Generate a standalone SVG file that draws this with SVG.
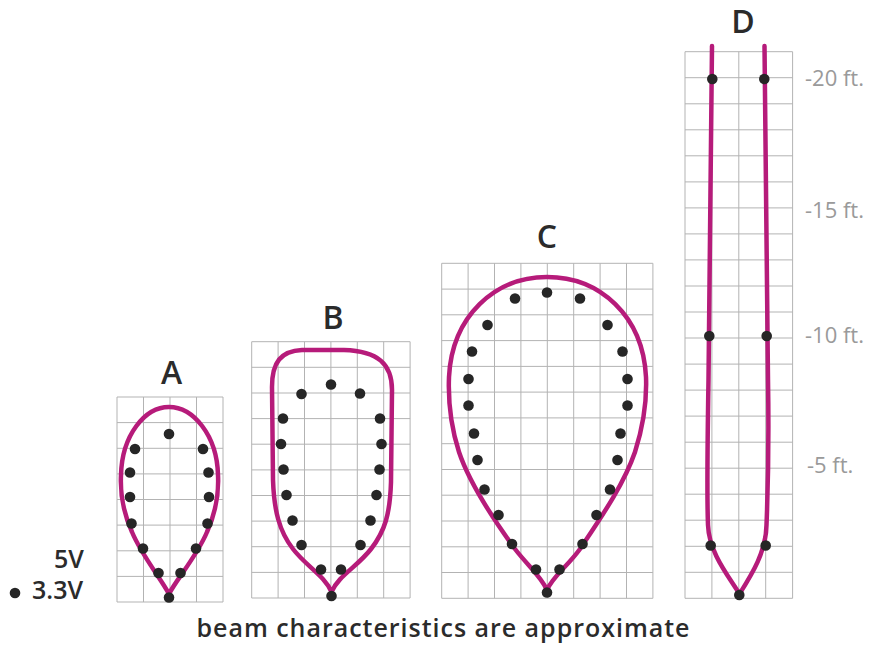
<svg xmlns="http://www.w3.org/2000/svg" width="874" height="648" viewBox="0 0 874 648">
<style>
.grid{fill:none;stroke:#b3b3b3;stroke-width:1}
.beam{fill:none;stroke:#b61b7a;stroke-width:4.5;stroke-linejoin:round;stroke-linecap:round}
.dot{fill:#262626}
.lbl{font-family:"Open Sans","Noto Sans",sans-serif;font-weight:600;font-size:32px;fill:#2b2b2b;text-anchor:middle}
.ft{font-family:"Open Sans","Noto Sans",sans-serif;font-size:22px;fill:#9a9a9a}
.leg{font-family:"Open Sans","Noto Sans",sans-serif;font-weight:600;font-size:25px;fill:#2b2b2b}
.cap{font-family:"Open Sans","Noto Sans",sans-serif;font-weight:600;font-size:25px;fill:#2b2b2b;text-anchor:middle}
</style>
<rect width="874" height="648" fill="#ffffff"/>

<g id="beam-a">
<path class="grid" d="M117,397V602M143.5,397V602M170,397V602M196.5,397V602M223,397V602M117,397H223M117,422.6H223M117,448.3H223M117,473.9H223M117,499.5H223M117,525.1H223M117,550.8H223M117,576.4H223M117,602H223"/>
<path class="beam" d="M169,594 C162,580 142,556 132,532 C123,512 120,495 121,475 C122,435 145,407 169,407 C193,407 217,435 218,475 C219,495 216,512 207,532 C197,556 176,580 169,594 Z"/>
<g class="dot">
<circle cx="169" cy="434" r="5.3"/><circle cx="135" cy="449" r="5.3"/><circle cx="203" cy="449" r="5.3"/>
<circle cx="130" cy="472.5" r="5.3"/><circle cx="208.5" cy="472.5" r="5.3"/><circle cx="130" cy="497" r="5.3"/><circle cx="209" cy="497" r="5.3"/>
<circle cx="131.5" cy="523.5" r="5.3"/><circle cx="207.5" cy="523.5" r="5.3"/><circle cx="143" cy="548.5" r="5.3"/><circle cx="196" cy="548.5" r="5.3"/>
<circle cx="158.5" cy="573" r="5.3"/><circle cx="180.5" cy="573" r="5.3"/><circle cx="169" cy="597.5" r="5.3"/>
</g>
<text class="lbl" x="171.5" y="383.5">A</text>
</g>

<g id="beam-b">
<path class="grid" d="M251.7,341.7V598M278.1,341.7V598M304.5,341.7V598M330.9,341.7V598M357.3,341.7V598M383.7,341.7V598M410.1,341.7V598M251.7,341.7H410.1M251.7,367.3H410.1M251.7,393H410.1M251.7,418.6H410.1M251.7,444.2H410.1M251.7,469.9H410.1M251.7,495.5H410.1M251.7,521.1H410.1M251.7,546.7H410.1M251.7,572.4H410.1M251.7,598H410.1"/>
<path class="beam" d="M331.5,592 C325,576 306,566 293,549 C279,531 274,510 273,480 L272,387 C272,362 281,351 302,350 L344,350 C378,351 392,364 392,390 L391,482 C390,514 385,531 371,549 C358,566 338,576 331.5,592 Z"/>
<g class="dot">
<circle cx="331" cy="384.5" r="5.3"/><circle cx="301.5" cy="394" r="5.3"/><circle cx="360" cy="393.5" r="5.3"/>
<circle cx="283" cy="418.5" r="5.3"/><circle cx="380" cy="418.5" r="5.3"/><circle cx="281" cy="444" r="5.3"/><circle cx="381.5" cy="444" r="5.3"/>
<circle cx="283.5" cy="469.5" r="5.3"/><circle cx="379.5" cy="469.5" r="5.3"/><circle cx="286.5" cy="495" r="5.3"/><circle cx="376.5" cy="495" r="5.3"/>
<circle cx="292.5" cy="520.5" r="5.3"/><circle cx="370.5" cy="520.5" r="5.3"/><circle cx="301.5" cy="545" r="5.3"/><circle cx="360.5" cy="545" r="5.3"/>
<circle cx="321" cy="569.5" r="5.3"/><circle cx="341" cy="569.5" r="5.3"/><circle cx="331.5" cy="596" r="5.3"/>
</g>
<text class="lbl" x="333" y="328.5">B</text>
</g>

<g id="beam-c">
<path class="grid" d="M441.7,263.3V598.3M468.1,263.3V598.3M494.5,263.3V598.3M520.9,263.3V598.3M547.3,263.3V598.3M573.7,263.3V598.3M600.1,263.3V598.3M626.5,263.3V598.3M652.9,263.3V598.3M441.7,263.3H652.9M441.7,289.1H652.9M441.7,314.8H652.9M441.7,340.6H652.9M441.7,366.4H652.9M441.7,392.1H652.9M441.7,417.9H652.9M441.7,443.7H652.9M441.7,469.5H652.9M441.7,495.2H652.9M441.7,521H652.9M441.7,546.8H652.9M441.7,572.5H652.9M441.7,598.3H652.9"/>
<path class="beam" d="M547,590 C541,576 528,566 515,549 C491,516 469,482 459,452 C451,427 448,402 449,377 C452,316 495,277 547,277 C600,277 643,316 646,377 C647,402 643,427 635,452 C624,484 602,516 580,549 C567,567 553,576 547,590 Z"/>
<g class="dot">
<circle cx="547" cy="292.5" r="5.3"/><circle cx="515" cy="298.5" r="5.3"/><circle cx="580" cy="298.5" r="5.3"/>
<circle cx="487.5" cy="325" r="5.3"/><circle cx="607.5" cy="325" r="5.3"/><circle cx="472" cy="351.5" r="5.3"/><circle cx="622.5" cy="351.5" r="5.3"/>
<circle cx="468.5" cy="379" r="5.3"/><circle cx="627.5" cy="379" r="5.3"/><circle cx="468.5" cy="405.5" r="5.3"/><circle cx="627.5" cy="405.5" r="5.3"/>
<circle cx="474" cy="433.5" r="5.3"/><circle cx="620.5" cy="433.5" r="5.3"/><circle cx="477.5" cy="460" r="5.3"/><circle cx="617.5" cy="460" r="5.3"/>
<circle cx="484.5" cy="489.5" r="5.3"/><circle cx="610" cy="489.5" r="5.3"/><circle cx="498.5" cy="515" r="5.3"/><circle cx="596.5" cy="515" r="5.3"/>
<circle cx="512" cy="544" r="5.3"/><circle cx="582.5" cy="544" r="5.3"/><circle cx="536" cy="569.5" r="5.3"/><circle cx="559.5" cy="569.5" r="5.3"/>
<circle cx="547" cy="592.5" r="5.3"/>
</g>
<text class="lbl" x="547" y="248">C</text>
</g>

<g id="beam-d">
<path class="grid" d="M685,51.7V598.3M711.9,51.7V598.3M738.8,51.7V598.3M765.7,51.7V598.3M792.6,51.7V598.3M685,51.7H792.6M685,77.7H792.6M685,103.8H792.6M685,129.8H792.6M685,155.8H792.6M685,181.9H792.6M685,207.9H792.6M685,233.9H792.6M685,259.9H792.6M685,286H792.6M685,312H792.6M685,338H792.6M685,364.1H792.6M685,390.1H792.6M685,416.1H792.6M685,442.2H792.6M685,468.2H792.6M685,494.2H792.6M685,520.2H792.6M685,546.3H792.6M685,572.3H792.6M685,598.3H792.6"/>
<path class="beam" d="M712,46 L708.5,380 C707.5,440 707,500 708,525 C709,552 727,574 739.5,594 C752,574 766,552 766.5,525 C767.5,500 769,440 768,380 L764.5,46"/>
<g class="dot">
<circle cx="712.3" cy="79" r="5.3"/><circle cx="764.3" cy="79" r="5.3"/>
<circle cx="709.3" cy="336" r="5.3"/><circle cx="766.7" cy="336" r="5.3"/>
<circle cx="710.7" cy="545.5" r="5.3"/><circle cx="765.7" cy="545.5" r="5.3"/>
<circle cx="739.3" cy="595" r="5.3"/>
</g>
<text class="lbl" x="743" y="32.5">D</text>
</g>

<g id="scale">
<text class="ft" x="805" y="86">-20 ft.</text>
<text class="ft" x="805" y="218">-15 ft.</text>
<text class="ft" x="805" y="343">-10 ft.</text>
<text class="ft" x="807" y="473">-5 ft.</text>
</g>

<g id="legend">
<text class="leg" x="54" y="568">5V</text>
<circle class="dot" cx="15" cy="593" r="5.3"/>
<text class="leg" x="32" y="599">3.3V</text>
</g>

<text class="cap" x="443" y="637" textLength="493" lengthAdjust="spacing">beam characteristics are approximate</text>
</svg>
